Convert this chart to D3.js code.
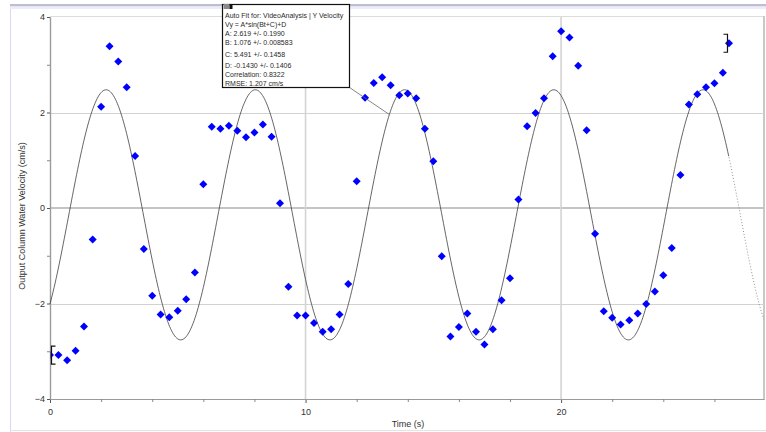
<!DOCTYPE html>
<html>
<head>
<meta charset="utf-8">
<script src="https://cdn.jsdelivr.net/npm/d3@7"></script>
<style>
  html, body { margin: 0; padding: 0; background: #fff; }
  svg { display: block; font-family: "Liberation Sans", Arial, sans-serif; }
</style>
</head>
<body>
<svg id="chart" width="766" height="432"></svg>
<script>
// Video analysis samples: time (s) and vertical water-column velocity (cm/s)
const times = [0, 0.33, 0.67, 1, 1.33, 1.67, 2, 2.33, 2.67, 3,
  3.33, 3.67, 4, 4.33, 4.67, 5, 5.33, 5.67, 6, 6.33,
  6.67, 7, 7.33, 7.67, 8, 8.33, 8.67, 9, 9.33, 9.67,
  10, 10.33, 10.67, 11, 11.33, 11.67, 12, 12.33, 12.67, 13,
  13.33, 13.67, 14, 14.33, 14.67, 15, 15.33, 15.67, 16, 16.33,
  16.67, 17, 17.33, 17.67, 18, 18.33, 18.67, 19, 19.33, 19.67,
  20, 20.33, 20.67, 21, 21.33, 21.67, 22, 22.33, 22.67, 23,
  23.33, 23.67, 24, 24.33, 24.67, 25, 25.33, 25.67, 26, 26.33,
  26.57];
const velocity = [-3.08, -3.08, -3.19, -2.99, -2.48, -0.66, 2.12, 3.39, 3.07, 2.53,
  1.09, -0.86, -1.84, -2.23, -2.29, -2.15, -1.91, -1.35, 0.50, 1.70,
  1.66, 1.72, 1.62, 1.48, 1.58, 1.75, 1.49, 0.10, -1.65, -2.25,
  -2.25, -2.41, -2.59, -2.54, -2.23, -1.59, 0.56, 2.31, 2.62, 2.74,
  2.57, 2.36, 2.40, 2.30, 1.66, 0.98, -1.01, -2.69, -2.49, -2.21,
  -2.59, -2.86, -2.54, -1.93, -1.47, 0.18, 1.71, 1.99, 2.30, 3.18,
  3.70, 3.57, 2.98, 1.63, -0.54, -2.16, -2.30, -2.44, -2.35, -2.21,
  -2.01, -1.75, -1.41, -0.84, 0.69, 2.17, 2.38, 2.53, 2.61, 2.83,
  3.45];

// Sine fit coefficients: A, B, C, D  (Vy = A*sin(B*t + C) + D)
const fitCoef = [2.619, 1.076, 5.491, -0.1430];
const fitLabels = [
  "Auto Fit for: VideoAnalysis | Y Velocity",
  "Vy = A*sin(Bt+C)+D",
  "A: 2.619 +/- 0.1990",
  "B: 1.076 +/- 0.008583",
  "C: 5.491 +/- 0.1458",
  "D: -0.1430 +/- 0.1406",
  "Correlation: 0.8322",
  "RMSE: 1.207 cm/s"
];

const xTicksMajor = [0, 10, 20];
const xTicksMinor = [2, 4, 6, 8, 12, 14, 16, 18, 22, 24, 26];
const yTicksMajor = [-4, -2, 0, 2, 4];
const yTicksMinor = [-3, -1, 1, 3];
const xTitle = "Time (s)";
const yTitle = "Output Column Water Velocity (cm/s)";

const svg = d3.select("#chart");
const x = d3.scaleLinear().domain([0, 27.94]).range([50, 764]);
const y = d3.scaleLinear().domain([-4, 4]).range([399, 17]);
const fit = t => fitCoef[0] * Math.sin(fitCoef[1] * t + fitCoef[2]) + fitCoef[3];

// window frame
svg.append("rect").attr("x", 10).attr("y", 4).attr("width", 756).attr("height", 2.5).attr("fill", "#bdbdd4");
svg.append("rect").attr("x", 10).attr("y", 6.5).attr("width", 756).attr("height", 2.5).attr("fill", "#ececfb");
svg.append("line").attr("x1", 10.5).attr("x2", 10.5).attr("y1", 9).attr("y2", 432).attr("stroke", "#d8d8f6");
svg.append("line").attr("x1", 10).attr("x2", 766).attr("y1", 430.5).attr("y2", 430.5).attr("stroke", "#e4e4e4");

// plot frame (top and right)
svg.append("line").attr("x1", x(0)).attr("x2", x.range()[1]).attr("y1", 16.5).attr("y2", 16.5).attr("stroke", "#dcdcdc");
svg.append("line").attr("x1", 764).attr("x2", 764).attr("y1", 16).attr("y2", y(-4)).attr("stroke", "#c8c8c8").attr("stroke-width", 2);

// grid
const grid = svg.append("g");
grid.selectAll("line.h").data([-2, 2]).join("line")
  .attr("x1", x(0)).attr("x2", 764)
  .attr("y1", d => Math.round(y(d)) + 0.5).attr("y2", d => Math.round(y(d)) + 0.5)
  .attr("stroke", "#d2d2d2");
grid.append("line")
  .attr("x1", x(0)).attr("x2", 764).attr("y1", y(0)).attr("y2", y(0))
  .attr("stroke", "#c4c4c4").attr("stroke-width", 2);
grid.selectAll("line.v").data([10, 20]).join("line")
  .attr("x1", d => x(d)).attr("x2", d => x(d)).attr("y1", 17).attr("y2", y(-4))
  .attr("stroke", "#d4d4d4").attr("stroke-width", 1.6);

// axes
const xAxis = svg.append("g").attr("transform", `translate(0,${y(-4)})`)
  .call(d3.axisBottom(x).tickValues(xTicksMajor).tickSize(4).tickSizeOuter(0).tickPadding(6).tickFormat(d3.format("d")));
const xMinor = svg.append("g").attr("transform", `translate(0,${y(-4)})`)
  .call(d3.axisBottom(x).tickValues(xTicksMinor).tickSize(3).tickSizeOuter(0).tickFormat(""));
const yAxis = svg.append("g").attr("transform", `translate(${x(0)},0)`)
  .call(d3.axisLeft(y).tickValues(yTicksMajor).tickSize(3).tickSizeOuter(0).tickPadding(2).tickFormat(d3.format("d")));
const yMinor = svg.append("g").attr("transform", `translate(${x(0)},0)`)
  .call(d3.axisLeft(y).tickValues(yTicksMinor).tickSize(3).tickSizeOuter(0).tickFormat(""));

[xAxis, xMinor, yAxis, yMinor].forEach(g => {
  g.select(".domain").attr("stroke", "#9a9a9a").attr("stroke-width", 1.2);
  g.selectAll(".tick line").attr("stroke", "#555");
  g.selectAll("text").attr("fill", "#333").attr("font-size", 9)
    .attr("font-family", "'Liberation Sans', Arial, sans-serif");
});
xMinor.selectAll(".tick line").attr("stroke", "#888");
yMinor.selectAll(".tick line").attr("stroke", "#888");

// axis titles
svg.append("text").attr("x", 408).attr("y", 427).attr("text-anchor", "middle")
  .attr("font-size", 9).attr("fill", "#333").text(xTitle);
svg.append("text").attr("transform", "translate(25,216) rotate(-90)").attr("text-anchor", "middle")
  .attr("font-size", 9).attr("fill", "#333").text(yTitle);

// clip for plot marks
svg.append("clipPath").attr("id", "plotClip").append("rect")
  .attr("x", x(0) + 0.6).attr("y", 16).attr("width", 764 - x(0)).attr("height", y(-4) - 16);

// fitted curve: solid over the fit range, dotted beyond it
const tStart = times[0], tEnd = times[times.length - 1], tMax = x.domain()[1];
const line = d3.line().x(d => x(d)).y(d => y(fit(d)));
svg.append("path").attr("d", line(d3.range(tStart, tEnd + 0.001, 0.04)))
  .attr("fill", "none").attr("stroke", "#333").attr("stroke-width", 0.75);
svg.append("path").attr("d", line(d3.range(tEnd, tMax, 0.04)))
  .attr("fill", "none").attr("stroke", "#777").attr("stroke-width", 0.8)
  .attr("stroke-dasharray", "1,2");

// data points
const pts = times.map((t, i) => ({ t, v: velocity[i] }));
svg.append("g").attr("clip-path", "url(#plotClip)")
  .selectAll("path").data(pts).join("path")
  .attr("d", d3.symbol(d3.symbolSquare, 32)())
  .attr("transform", d => `translate(${x(d.t)},${y(d.v)}) rotate(45)`)
  .attr("fill", "#0000ff");

// fit-range brackets at first and last samples
function bracket(t, v, dir) {
  const bx = x(t) + (dir < 0 ? 1.5 : -1.5), by = y(v);
  svg.append("path")
    .attr("d", `M${bx - dir * 4},${by - 9} H${bx} V${by + 9} H${bx - dir * 4}`)
    .attr("fill", "none").attr("stroke", "#111").attr("stroke-width", 1.2);
}
bracket(times[0], velocity[0], -1);
bracket(times[times.length - 1], velocity[velocity.length - 1], 1);

// fit annotation box with leader line
const box = { x: 222.5, y: 4.5, w: 127, h: 83 };
const tLead = 13.28;
svg.append("line").attr("x1", box.x + box.w).attr("y1", box.y + box.h)
  .attr("x2", x(tLead)).attr("y2", y(fit(tLead)))
  .attr("stroke", "#666").attr("stroke-width", 0.8);
svg.append("rect").attr("x", box.x).attr("y", box.y).attr("width", box.w).attr("height", box.h)
  .attr("fill", "#fff").attr("stroke", "#111").attr("stroke-width", 1.2);
svg.append("rect").attr("x", box.x + 1).attr("y", box.y - 0.5).attr("width", 6).attr("height", 5).attr("fill", "#8a8a8a");
svg.append("rect").attr("x", box.x + 7).attr("y", box.y - 0.5).attr("width", 3).attr("height", 5).attr("fill", "#111");
const lineY = [18, 26.5, 35.5, 45, 56.5, 67.5, 77, 86];
svg.append("g").selectAll("text").data(fitLabels).join("text")
  .attr("x", box.x + 2.5).attr("y", (d, i) => lineY[i])
  .attr("font-size", 7).attr("fill", "#2a2a2a").text(d => d);
</script>
</body>
</html>
